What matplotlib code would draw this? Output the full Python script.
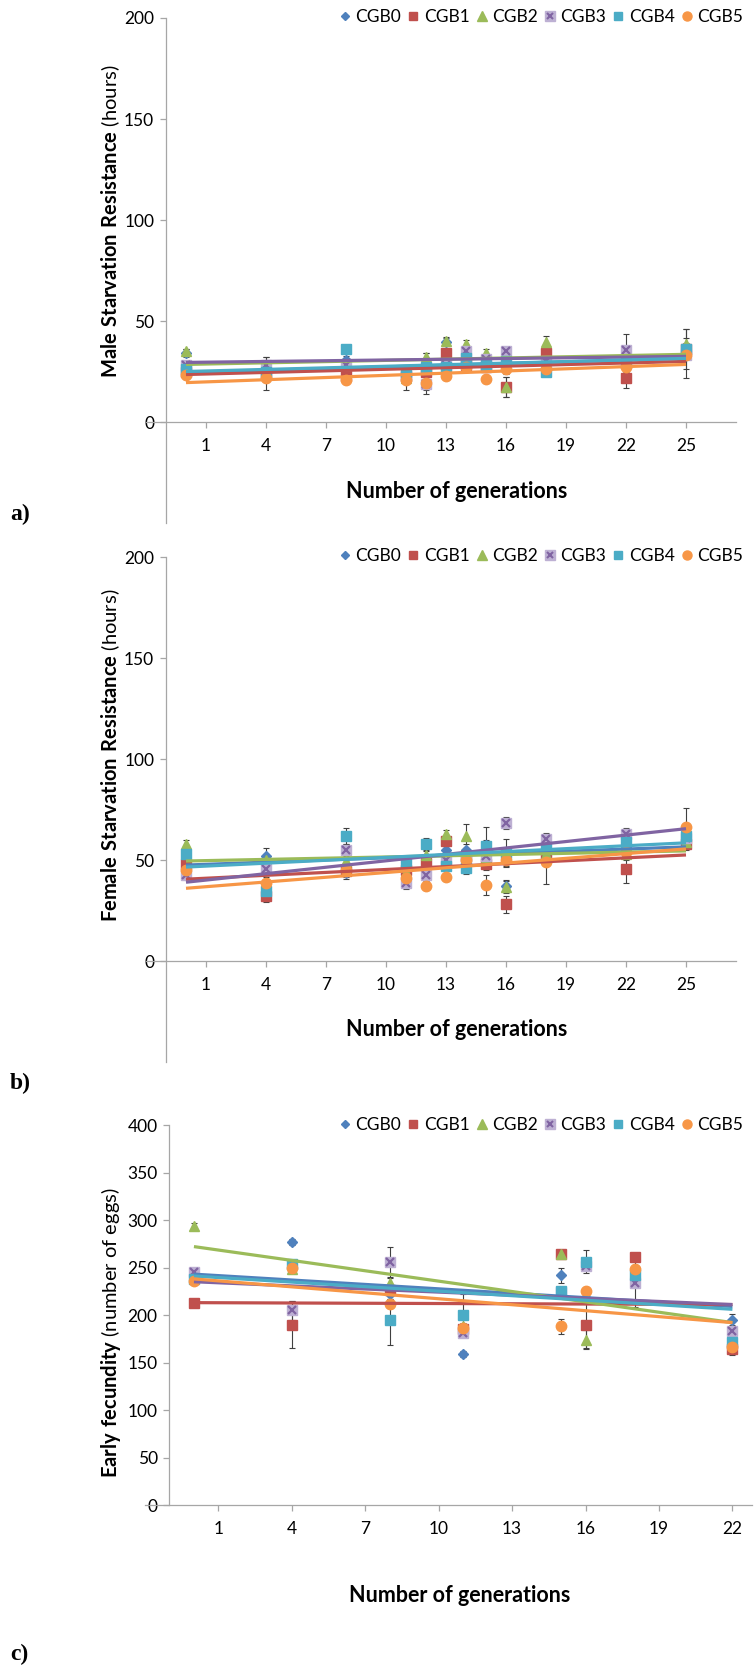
import numpy as np
import matplotlib
matplotlib.use("Agg")
import matplotlib.pyplot as plt
from matplotlib.lines import Line2D
from matplotlib.legend_handler import HandlerTuple

plt.rcParams['font.family'] = ['Lato', 'DejaVu Sans']
plt.rcParams['mathtext.fontset'] = 'custom'
plt.rcParams['mathtext.rm'] = 'Lato'
plt.rcParams['mathtext.bf'] = 'Lato:bold'

# ---------------- data ----------------
series_names = ['CGB0', 'CGB1', 'CGB2', 'CGB3', 'CGB4', 'CGB5']

gens_ab = [0, 4, 8, 11, 12, 13, 14, 15, 16, 18, 22, 25]
gens_c = [0, 4, 8, 11, 15, 16, 18, 22]
xticks_ab = [1, 4, 7, 10, 13, 16, 19, 22, 25]
xticks_c = [1, 4, 7, 10, 13, 16, 19, 22]

# Panel a: male starvation resistance (hours)
male_cgb0 = [34, 26, 30.5, 24, 26, 39.5, 30, 31, 29, 33, 30, 34]
male_cgb1 = [25, 24, 23, 23, 25, 34, 28, 27, 17.5, 34, 22, 36]
male_cgb2 = [35, 27, 28, 22, 32, 40, 38.5, 34, 17.5, 39.5, 31, 38.5]
male_cgb3 = [28, 28, 28, 23, 19, 28, 35, 31, 35, 30, 35.5, 33]
male_cgb4 = [26, 25, 36, 25, 27, 27, 31.5, 28, 30, 25, 29, 36]
male_cgb5 = [23.5, 22, 21, 21, 19.5, 23, 27, 21.5, 26, 26, 27, 33]
male_err0 = [2, 3, 2, 3, 3, 2, 2, 2, 2, 3, 3, 12]
male_err1 = [2, 8, 2, 3, 9, 2, 2, 2, 5, 2, 5, 3]
male_err2 = [1, 2, 2, 2, 2, 2, 2, 2, 5, 3, 2, 3]
male_err3 = [2, 4, 2, 3, 5, 2, 2, 2, 2, 2, 8, 2]
male_err4 = [2, 2, 2, 3, 3, 2, 2, 2, 2, 2, 2, 10]
male_err5 = [2, 2, 2, 5, 2, 2, 2, 2, 2, 2, 2, 2]
male_trend_start = [24.5, 23.5, 28.5, 29.5, 25.0, 19.5]   # value at generation 0
male_trend_end = [31.5, 30.0, 33.5, 32.5, 31.5, 28.5]     # value at generation 25

# Panel b: female starvation resistance (hours)
fem_cgb0 = [48, 52, 43.5, 47.5, 50, 55, 55, 57.5, 37, 55, 56.5, 60]
fem_cgb1 = [48, 32, 44.5, 45, 48.5, 59.5, 52, 48, 28, 52, 45.5, 58]
fem_cgb2 = [58, 50, 49.5, 44, 52.5, 63, 62, 51, 36.5, 53, 53, 59]
fem_cgb3 = [42.5, 45.5, 55, 38.5, 42.5, 50, 50, 52, 68.5, 60.5, 63, 61]
fem_cgb4 = [53, 34.5, 62, 48.5, 58, 47, 46, 57, 53.5, 55.5, 59, 62]
fem_cgb5 = [45, 38.5, 45, 41, 37, 41.5, 50, 37.5, 50, 49, 54, 66.5]
fem_err0 = [2, 4, 3, 3, 2, 2, 3, 9, 3, 3, 3, 3]
fem_err1 = [2, 3, 3, 3, 3, 2, 3, 3, 4, 3, 7, 3]
fem_err2 = [2, 3, 3, 3, 2, 2, 6, 3, 3, 3, 3, 3]
fem_err3 = [2, 3, 3, 3, 3, 2, 3, 3, 3, 3, 3, 3]
fem_err4 = [2, 3, 4, 3, 3, 2, 3, 3, 7, 3, 3, 3]
fem_err5 = [2, 3, 3, 5, 2, 2, 3, 5, 3, 11, 3, 9]
fem_trend_start = [47.5, 40.5, 49.5, 39.0, 46.5, 36.0]
fem_trend_end = [56.5, 52.5, 54.5, 65.5, 58.5, 55.5]

# Panel c: early fecundity (number of eggs)
fec_cgb0 = [241, 277, 222, 159, 242, 218, 240, 195]
fec_cgb1 = [213, 190, 226, 185, 264, 189, 261, 164]
fec_cgb2 = [294, 248, 234, 188, 264, 174, 245, 175]
fec_cgb3 = [245, 205, 256, 181, 224, 252, 234, 183]
fec_cgb4 = [238, 254, 195, 200, 225, 256, 242, 172]
fec_cgb5 = [236, 250, 212, 186, 188, 225, 248, 166]
fec_err0 = [3, 3, 5, 3, 8, 5, 4, 6]
fec_err1 = [3, 25, 5, 4, 4, 24, 4, 6]
fec_err2 = [3, 4, 5, 4, 4, 10, 4, 5]
fec_err3 = [3, 10, 16, 4, 4, 5, 26, 5]
fec_err4 = [3, 4, 27, 22, 4, 12, 4, 5]
fec_err5 = [3, 4, 5, 4, 8, 5, 4, 5]
fec_trend_start = [243, 213, 272, 235, 241, 238]
fec_trend_end = [209, 211, 192, 211, 206, 192]

# ---------------- styles ----------------
colors = ['#4F81BD', '#C0504D', '#9BBB59', '#8064A2', '#4BACC6', '#F79646']
markers = ['D', 's', '^', 's', 's', 'o']
msizes = [5.5, 7, 7.5, 7.5, 7, 7.5]
purple_fill = '#BDB0D3'
axis_grey = '#A6A6A6'
err_color = '#404040'

W, H = 754, 1667
fig = plt.figure(figsize=(W / 100, H / 100), dpi=100)


def rect(left, right, top, bottom):
    return [left / W, 1 - bottom / H, (right - left) / W, (bottom - top) / H]


def style_axes(ax, xlim, ylim, yticks, xticks):
    ax.set_xlim(*xlim)
    ax.set_ylim(*ylim)
    for s in ['top', 'right']:
        ax.spines[s].set_visible(False)
    ax.spines['left'].set_position(('data', -1))
    ax.spines['bottom'].set_position(('data', 0))
    for s in ['left', 'bottom']:
        ax.spines[s].set_color(axis_grey)
        ax.spines[s].set_linewidth(0.9)
    ax.set_yticks(yticks)
    ax.set_xticks(xticks)
    ax.tick_params(axis='both', direction='out', color=axis_grey, width=0.9,
                   length=4.5, labelsize=12.5, labelcolor='#000000')
    ax.tick_params(axis='x', pad=7)
    ax.tick_params(axis='y', pad=4)
    ax.patch.set_alpha(0)


def draw_series(ax, x, ys, errs, t_start, t_end, x_end):
    for i in range(6):
        if i == 3:
            ax.errorbar(x, ys[i], yerr=errs[i], fmt='s', ms=msizes[i], mfc=purple_fill,
                        mec=purple_fill, ecolor=err_color, elinewidth=0.8, capsize=2.5,
                        capthick=0.8, zorder=3)
            ax.plot(x, ys[i], ls='none', marker='x', ms=5.5, mew=1.6, color=colors[3], zorder=3.1)
        else:
            ax.errorbar(x, ys[i], yerr=errs[i], fmt=markers[i], ms=msizes[i], mfc=colors[i],
                        mec=colors[i], ecolor=err_color, elinewidth=0.8, capsize=2.5,
                        capthick=0.8, zorder=3)
    for i in range(6):
        ax.plot([0, x_end], [t_start[i], t_end[i]], color=colors[i], lw=2.3,
                solid_capstyle='butt', zorder=4)


def legend_handles():
    hs = []
    for i in range(6):
        if i == 3:
            h1 = Line2D([], [], ls='none', marker='s', ms=6.5, mfc=purple_fill, mec=purple_fill)
            h2 = Line2D([], [], ls='none', marker='x', ms=5, mew=1.5, color=colors[3])
            hs.append((h1, h2))
        else:
            hs.append(Line2D([], [], ls='none', marker=markers[i], ms=msizes[i] - 1,
                             mfc=colors[i], mec=colors[i]))
    return hs


def add_legend(ax, y_px):
    ax.legend(legend_handles(), series_names, ncol=6, loc='center right',
              bbox_to_anchor=(750 / W, 1 - y_px / H), bbox_transform=fig.transFigure,
              frameon=False, fontsize=12.5, handlelength=0.6, handletextpad=0.3,
              columnspacing=0.4, borderaxespad=0,
              handler_map={tuple: HandlerTuple(ndivide=1, pad=0)})


def xlabel(x_px, y_px):
    fig.text(x_px / W, 1 - y_px / H, 'Number of generations', ha='center', va='center',
             fontsize=15.5, fontweight='bold')


def panel_letter(txt, y_px):
    fig.text(10 / W, 1 - y_px / H, txt, ha='left', va='center', fontsize=17,
             fontweight='bold', family='Liberation Serif')


def ylabel(txt, x_px, y_px):
    fig.text(x_px / W, 1 - y_px / H, txt, ha='center', va='center', rotation=90,
             fontsize=14.5)


# ---------------- panel a ----------------
ax_a = fig.add_axes(rect(146, 736, 18, 523))
style_axes(ax_a, (-2, 27.5), (-50, 200), [0, 50, 100, 150, 200], xticks_ab)
draw_series(ax_a, gens_ab,
            [male_cgb0, male_cgb1, male_cgb2, male_cgb3, male_cgb4, male_cgb5],
            [male_err0, male_err1, male_err2, male_err3, male_err4, male_err5],
            male_trend_start, male_trend_end, 25)
add_legend(ax_a, 17)
xlabel(457, 491)
panel_letter('a)', 514)
ylabel(r'$\mathbf{Male\ Starvation\ Resistance}$ (hours)', 111, 221)

# ---------------- panel b ----------------
ax_b = fig.add_axes(rect(146, 736, 557, 1062))
style_axes(ax_b, (-2, 27.5), (-50, 200), [0, 50, 100, 150, 200], xticks_ab)
draw_series(ax_b, gens_ab,
            [fem_cgb0, fem_cgb1, fem_cgb2, fem_cgb3, fem_cgb4, fem_cgb5],
            [fem_err0, fem_err1, fem_err2, fem_err3, fem_err4, fem_err5],
            fem_trend_start, fem_trend_end, 25)
add_legend(ax_b, 556)
xlabel(457, 1029)
panel_letter('b)', 1083)
ylabel(r'$\mathbf{Female\ Starvation\ Resistance}$ (hours)', 111, 755)

# ---------------- panel c ----------------
ax_c = fig.add_axes(rect(145, 752, 1125, 1505))
style_axes(ax_c, (-2, 22.8), (0, 400), list(range(0, 401, 50)), xticks_c)
draw_series(ax_c, gens_c,
            [fec_cgb0, fec_cgb1, fec_cgb2, fec_cgb3, fec_cgb4, fec_cgb5],
            [fec_err0, fec_err1, fec_err2, fec_err3, fec_err4, fec_err5],
            fec_trend_start, fec_trend_end, 22)
add_legend(ax_c, 1125)
xlabel(460, 1595)
panel_letter('c)', 1654)
ylabel(r'$\mathbf{Early\ fecundity}$ (number of eggs)', 111, 1333)

fig.savefig('out.png', dpi=100)
